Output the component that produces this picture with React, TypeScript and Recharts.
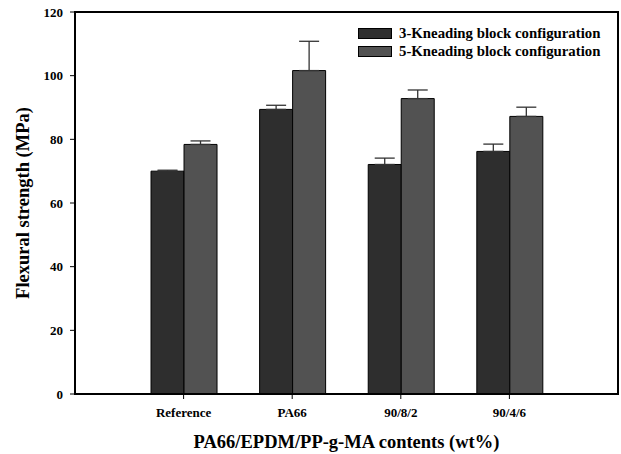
import React from 'react';
import { BarChart, Bar, XAxis, YAxis, ErrorBar, Label, ReferenceArea } from 'recharts';

// Blend compositions (wt%) on the category axis
const categories = ['Reference', 'PA66', '90/8/2', '90/4/6'];
// Flexural strength (MPa) for each screw configuration
const kneading3 = [70.0, 89.4, 72.1, 76.2];
const kneading5 = [78.4, 101.6, 92.8, 87.2];
// Standard deviations (upper whisker only)
const err3 = [0.3, 1.3, 2.0, 2.3];
const err5 = [1.1, 9.2, 2.7, 2.9];
const yTicks = [0, 20, 40, 60, 80, 100, 120];

const seriesNames = ['3-Kneading block configuration', '5-Kneading block configuration'];
const seriesColors = ['#2e2e2e', '#525252'];

// groups sit at positions 1..n on a numeric axis running from 0 to n + 1
const positions = categories.map((_, i) => i + 1);
const xDomain = [0, categories.length + 1];

const data = categories.map((name, i) => ({
  pos: positions[i],
  name,
  k3: kneading3[i],
  k5: kneading5[i],
  e3: [0, err3[i]],
  e5: [0, err5[i]],
}));

const FONT = '"Liberation Serif", "Times New Roman", serif';

const tickStyle = { fontFamily: FONT, fontWeight: 700, fontSize: 13, fill: '#000' };

function LegendBox() {
  return (
    <div
      style={{
        position: 'absolute',
        left: 358,
        top: 24,
        fontFamily: FONT,
        fontWeight: 700,
        fontSize: 14.8,
        color: '#000',
        pointerEvents: 'none',
      }}
    >
      {seriesNames.map((n, i) => (
        <div key={n} style={{ display: 'flex', alignItems: 'center', height: 18 }}>
          <span
            style={{
              display: 'inline-block',
              width: 32,
              height: 9,
              background: seriesColors[i],
              border: '1px solid #000',
              marginRight: 7,
            }}
          />
          <span style={{ whiteSpace: 'nowrap' }}>{n}</span>
        </div>
      ))}
    </div>
  );
}

export default function App() {
  return (
    <div style={{ position: 'absolute', left: 0, top: 0, width: 621, height: 454, background: '#fff' }}>
      <BarChart
        width={621}
        height={454}
        data={data}
        margin={{ top: 12, right: 3, left: 0, bottom: 0 }}
        barGap={0}
        barCategoryGap="20%"
      >
        {/* frame around the plotting area */}
        <ReferenceArea
          x1={xDomain[0]}
          x2={xDomain[1]}
          y1={0}
          y2={120}
          fill="none"
          stroke="#000"
          strokeWidth={2}
          ifOverflow="visible"
        />
        <XAxis
          dataKey="pos"
          type="number"
          domain={xDomain}
          ticks={positions}
          tickFormatter={(v: number) => categories[v - 1] ?? ''}
          allowDecimals={false}
          height={60}
          interval={0}
          tickSize={5}
          tickMargin={9}
          tick={tickStyle}
          tickLine={{ stroke: '#000', strokeWidth: 1 }}
          axisLine={{ stroke: '#000', strokeWidth: 2 }}
        >
          <Label
            content={(props: any) => {
              const vb = props.viewBox;
              return (
                <text
                  x={vb.x + vb.width / 2}
                  y={vb.y + 54}
                  textAnchor="middle"
                  style={{ fontFamily: FONT, fontWeight: 700, fontSize: 18.5, fill: '#000' }}
                >
                  PA66/EPDM/PP-g-MA contents (wt%)
                </text>
              );
            }}
          />
        </XAxis>
        <YAxis
          domain={[0, 120]}
          ticks={yTicks}
          width={75}
          tickSize={5}
          tickMargin={7}
          tick={tickStyle}
          tickLine={{ stroke: '#000', strokeWidth: 1 }}
          axisLine={{ stroke: '#000', strokeWidth: 2 }}
        >
          <Label
            content={(props: any) => {
              const vb = props.viewBox;
              const cx = 23;
              const cy = vb.y + vb.height / 2;
              return (
                <text
                  x={cx}
                  y={cy}
                  textAnchor="middle"
                  dominantBaseline="central"
                  transform={`rotate(-90 ${cx} ${cy})`}
                  style={{ fontFamily: FONT, fontWeight: 700, fontSize: 18.5, fill: '#000' }}
                >
                  Flexural strength (MPa)
                </text>
              );
            }}
          />
        </YAxis>
        <Bar dataKey="k3" name={seriesNames[0]} fill={seriesColors[0]} stroke="#000" strokeWidth={1} isAnimationActive={false}>
          <ErrorBar dataKey="e3" direction="y" width={10} stroke="#333" strokeWidth={1.3} isAnimationActive={false} />
        </Bar>
        <Bar dataKey="k5" name={seriesNames[1]} fill={seriesColors[1]} stroke="#000" strokeWidth={1} isAnimationActive={false}>
          <ErrorBar dataKey="e5" direction="y" width={10} stroke="#333" strokeWidth={1.3} isAnimationActive={false} />
        </Bar>
      </BarChart>
      <LegendBox />
    </div>
  );
}
